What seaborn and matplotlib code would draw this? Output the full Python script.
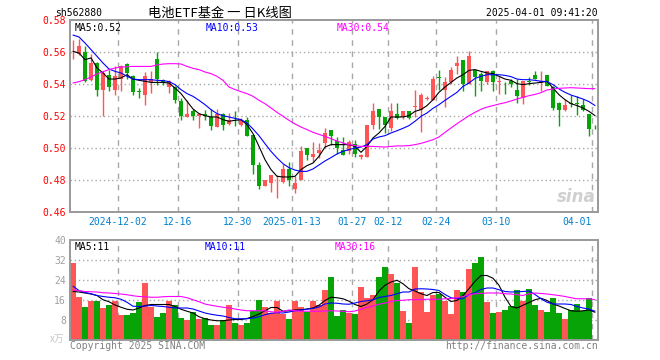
import matplotlib
matplotlib.use("Agg")
import numpy as np
import pandas as pd
import seaborn as sns
import matplotlib.pyplot as plt

# --- DATA ---
DATE_TICKS = [8, 18, 28, 37, 47, 53, 61, 71, 87]
DATE_LABELS = ["2024-12-02", "12-16", "12-30", "2025-01-13", "01-27",
               "02-12", "02-24", "03-10", "04-01"]

opens = [0.5630, 0.5588, 0.5598, 0.5427, 0.5531, 0.5365, 0.5458, 0.5365, 0.5431, 0.5527,
         0.5448, 0.5354, 0.5333, 0.5410, 0.5556, 0.5427, 0.5381, 0.5381, 0.5296, 0.5194,
         0.5229, 0.5202, 0.5215, 0.5194, 0.5131, 0.5213, 0.5152, 0.5152, 0.5146, 0.5173,
         0.5083, 0.4896, 0.4765, 0.4781, 0.4798, 0.4788, 0.4867, 0.4744, 0.4802, 0.5000,
         0.4944, 0.4967, 0.5031, 0.5115, 0.5044, 0.4985, 0.4979, 0.5027, 0.4944, 0.4944,
         0.5146, 0.5246, 0.5194, 0.5125, 0.5213, 0.5194, 0.5233, 0.5256, 0.5235, 0.5306,
         0.5302, 0.5444, 0.5363, 0.5410, 0.5515, 0.5550, 0.5400, 0.5488, 0.5463, 0.5410,
         0.5483, 0.5413, 0.5402, 0.5417, 0.5365, 0.5315, 0.5417, 0.5458, 0.5408, 0.5458,
         0.5381, 0.5281, 0.5235, 0.5279, 0.5281, 0.5267, 0.5215, 0.5137]
highs = [0.5677, 0.5680, 0.5635, 0.5590, 0.5535, 0.5480, 0.5490, 0.5510, 0.5520, 0.5530,
         0.5458, 0.5375, 0.5473, 0.5480, 0.5598, 0.5431, 0.5427, 0.5390, 0.5313, 0.5302,
         0.5244, 0.5219, 0.5235, 0.5244, 0.5244, 0.5219, 0.5219, 0.5229, 0.5190, 0.5194,
         0.5083, 0.4910, 0.4798, 0.4833, 0.4833, 0.4898, 0.4915, 0.4825, 0.5015, 0.5000,
         0.5040, 0.5030, 0.5125, 0.5115, 0.5069, 0.5069, 0.5048, 0.5048, 0.4965, 0.5146,
         0.5281, 0.5246, 0.5194, 0.5281, 0.5281, 0.5233, 0.5233, 0.5360, 0.5344, 0.5323,
         0.5448, 0.5485, 0.5446, 0.5504, 0.5577, 0.5550, 0.5604, 0.5488, 0.5473, 0.5483,
         0.5488, 0.5452, 0.5410, 0.5433, 0.5431, 0.5419, 0.5444, 0.5479, 0.5479, 0.5458,
         0.5390, 0.5285, 0.5306, 0.5333, 0.5325, 0.5306, 0.5215, 0.5146]
lows = [0.5556, 0.5580, 0.5410, 0.5417, 0.5323, 0.5200, 0.5354, 0.5333, 0.5354, 0.5430,
        0.5330, 0.5313, 0.5269, 0.5344, 0.5396, 0.5396, 0.5344, 0.5281, 0.5173, 0.5194,
        0.5177, 0.5125, 0.5177, 0.5110, 0.5131, 0.5115, 0.5146, 0.5135, 0.5140, 0.5073,
        0.4840, 0.4744, 0.4760, 0.4727, 0.4688, 0.4783, 0.4765, 0.4719, 0.4798, 0.4927,
        0.4910, 0.4940, 0.5000, 0.5021, 0.4965, 0.4956, 0.4965, 0.4944, 0.4929, 0.4944,
        0.5119, 0.5119, 0.5094, 0.5104, 0.5181, 0.5181, 0.5181, 0.5194, 0.5098, 0.5298,
        0.5298, 0.5365, 0.5254, 0.5400, 0.5463, 0.5358, 0.5400, 0.5327, 0.5358, 0.5402,
        0.5358, 0.5338, 0.5338, 0.5379, 0.5281, 0.5273, 0.5396, 0.5431, 0.5354, 0.5390,
        0.5240, 0.5140, 0.5229, 0.5256, 0.5208, 0.5231, 0.5073, 0.5119]
closes = [0.5632, 0.5635, 0.5417, 0.5531, 0.5365, 0.5469, 0.5379, 0.5448, 0.5510, 0.5469,
          0.5348, 0.5352, 0.5448, 0.5431, 0.5431, 0.5406, 0.5417, 0.5302, 0.5202, 0.5215,
          0.5198, 0.5215, 0.5198, 0.5135, 0.5215, 0.5146, 0.5177, 0.5150, 0.5177, 0.5077,
          0.4896, 0.4765, 0.4798, 0.4833, 0.4802, 0.4867, 0.4800, 0.4783, 0.4983, 0.4958,
          0.4965, 0.4985, 0.5094, 0.5077, 0.4998, 0.4958, 0.5038, 0.4965, 0.4958, 0.5146,
          0.5233, 0.5194, 0.5146, 0.5229, 0.5188, 0.5233, 0.5188, 0.5265, 0.5333, 0.5315,
          0.5431, 0.5440, 0.5410, 0.5488, 0.5529, 0.5400, 0.5577, 0.5446, 0.5421, 0.5483,
          0.5410, 0.5417, 0.5400, 0.5400, 0.5327, 0.5419, 0.5413, 0.5431, 0.5419, 0.5390,
          0.5250, 0.5240, 0.5271, 0.5277, 0.5273, 0.5238, 0.5119, 0.5135]

ma5 = [0.5604, 0.5594, 0.5552, 0.5563, 0.5500, 0.5469, 0.5431, 0.5431, 0.5438, 0.5458,
       0.5431, 0.5423, 0.5417, 0.5410, 0.5410, 0.5410, 0.5406, 0.5375, 0.5340, 0.5292,
       0.5244, 0.5215, 0.5202, 0.5194, 0.5194, 0.5177, 0.5167, 0.5173, 0.5177, 0.5146,
       0.5090, 0.5010, 0.4927, 0.4865, 0.4823, 0.4819, 0.4819, 0.4823, 0.4865, 0.4890,
       0.4906, 0.4948, 0.5006, 0.5021, 0.5021, 0.5021, 0.5021, 0.5010, 0.4973, 0.5010,
       0.5063, 0.5094, 0.5135, 0.5194, 0.5194, 0.5194, 0.5202, 0.5229, 0.5240, 0.5265,
       0.5302, 0.5348, 0.5381, 0.5410, 0.5438, 0.5458, 0.5485, 0.5490, 0.5479, 0.5469,
       0.5465, 0.5448, 0.5431, 0.5423, 0.5402, 0.5396, 0.5402, 0.5406, 0.5410, 0.5417,
       0.5375, 0.5333, 0.5302, 0.5277, 0.5265, 0.5250, 0.5229, 0.5202]
ma10 = [0.5706, 0.5694, 0.5656, 0.5615, 0.5573, 0.5531, 0.5494, 0.5479, 0.5469, 0.5448,
        0.5431, 0.5427, 0.5427, 0.5427, 0.5423, 0.5421, 0.5415, 0.5396, 0.5365, 0.5340,
        0.5323, 0.5298, 0.5271, 0.5240, 0.5215, 0.5202, 0.5194, 0.5185, 0.5177, 0.5156,
        0.5119, 0.5077, 0.5027, 0.4979, 0.4938, 0.4902, 0.4877, 0.4862, 0.4854, 0.4854,
        0.4869, 0.4894, 0.4919, 0.4940, 0.4963, 0.4979, 0.4990, 0.5000, 0.5006, 0.5021,
        0.5056, 0.5069, 0.5077, 0.5094, 0.5108, 0.5123, 0.5140, 0.5167, 0.5198, 0.5219,
        0.5248, 0.5271, 0.5298, 0.5323, 0.5348, 0.5385, 0.5406, 0.5435, 0.5448, 0.5458,
        0.5458, 0.5458, 0.5454, 0.5446, 0.5431, 0.5427, 0.5427, 0.5423, 0.5417, 0.5415,
        0.5396, 0.5369, 0.5348, 0.5331, 0.5319, 0.5306, 0.5290, 0.5265]
ma30 = [0.5406, 0.5415, 0.5427, 0.5444, 0.5463, 0.5477, 0.5490, 0.5500, 0.5506, 0.5508,
        0.5510, 0.5510, 0.5510, 0.5510, 0.5519, 0.5525, 0.5527, 0.5527, 0.5525, 0.5510,
        0.5498, 0.5490, 0.5475, 0.5465, 0.5448, 0.5423, 0.5381, 0.5365, 0.5352, 0.5340,
        0.5323, 0.5298, 0.5277, 0.5250, 0.5223, 0.5198, 0.5173, 0.5150, 0.5131, 0.5115,
        0.5098, 0.5085, 0.5073, 0.5058, 0.5044, 0.5031, 0.5021, 0.5015, 0.5010, 0.5010,
        0.5010, 0.5008, 0.5006, 0.5010, 0.5013, 0.5013, 0.5015, 0.5021, 0.5029, 0.5040,
        0.5052, 0.5069, 0.5098, 0.5125, 0.5152, 0.5177, 0.5202, 0.5223, 0.5242, 0.5256,
        0.5265, 0.5275, 0.5283, 0.5294, 0.5306, 0.5317, 0.5327, 0.5335, 0.5346, 0.5363,
        0.5369, 0.5373, 0.5375, 0.5377, 0.5375, 0.5373, 0.5371, 0.5371]

volume = [30.9, 17.1, 13.4, 15.5, 15.5, 13.0, 14.0, 15.5, 10.1, 10.1,
          10.9, 15.1, 22.8, 13.4, 9.3, 10.9, 15.5, 13.9, 8.9, 8.1,
          11.3, 8.5, 8.8, 6.1, 6.1, 8.1, 14.2, 6.9, 6.1, 6.9,
          11.5, 16.2, 13.4, 10.9, 15.8, 10.5, 8.5, 15.8, 13.4, 11.3,
          15.8, 14.2, 20.2, 25.2, 9.7, 12.1, 10.9, 10.5, 21.1, 17.0,
          18.2, 25.1, 29.1, 26.3, 22.7, 11.7, 6.9, 29.1, 19.4, 11.3,
          18.2, 18.6, 15.8, 10.5, 20.2, 19.4, 28.3, 30.8, 33.2, 15.4,
          10.9, 11.3, 12.1, 13.8, 20.2, 15.8, 20.6, 14.2, 12.1, 11.3,
          17.0, 10.9, 8.5, 12.1, 14.6, 11.7, 17.0, 0.4]
vol_ma5 = [19.4, 19.2, 18.8, 18.4, 17.8, 16.1, 15.3, 14.0, 13.1, 12.3,
           12.0, 12.8, 13.8, 14.2, 14.2, 14.2, 14.2, 13.4, 12.3, 11.5,
           10.8, 9.3, 8.5, 8.0, 7.7, 7.7, 8.0, 8.2, 8.2, 8.6,
           9.4, 10.4, 11.7, 13.0, 13.0, 11.5, 11.7, 12.0, 12.1, 12.4,
           12.8, 13.9, 15.8, 17.1, 16.9, 16.5, 15.5, 14.2, 13.4, 14.4,
           16.1, 19.6, 21.9, 23.2, 23.9, 22.5, 20.5, 19.6, 18.5, 17.8,
           19.0, 19.0, 17.1, 15.4, 15.8, 17.8, 20.5, 23.5, 25.8, 25.8,
           24.7, 21.9, 17.1, 13.4, 12.8, 13.9, 15.0, 16.1, 16.7, 15.8,
           14.4, 13.6, 12.6, 11.7, 11.5, 11.7, 12.0, 11.1]
vol_ma10 = [21.5, 19.8, 19.0, 18.5, 17.8, 17.4, 17.1, 16.9, 16.3, 15.1,
            13.5, 13.4, 13.6, 13.8, 13.6, 13.4, 13.1, 12.8, 12.8, 12.8,
            12.4, 11.6, 10.8, 10.3, 9.9, 9.6, 9.0, 8.5, 8.5, 8.5,
            8.8, 9.3, 10.1, 10.7, 10.9, 10.8, 11.2, 11.7, 12.0, 12.3,
            12.6, 13.2, 14.4, 14.8, 14.7, 14.4, 14.3, 14.8, 15.4, 15.7,
            16.1, 17.0, 17.4, 17.8, 18.5, 19.2, 19.2, 20.4, 20.5, 20.4,
            20.2, 19.8, 18.2, 16.9, 16.5, 16.5, 18.2, 18.9, 20.2, 20.8,
            20.8, 20.1, 19.4, 19.2, 19.3, 19.4, 19.6, 18.2, 16.5, 15.1,
            14.4, 14.4, 14.4, 14.2, 13.4, 12.8, 12.4, 11.5]
vol_ma30 = [20.0, 19.7, 19.4, 19.3, 19.2, 18.9, 18.8, 18.6, 18.4, 18.1,
            17.7, 17.4, 17.3, 17.1, 17.1, 17.3, 17.4, 17.4, 17.4, 16.9,
            16.1, 15.3, 14.4, 13.9, 13.5, 13.1, 12.8, 12.4, 12.0, 11.7,
            11.7, 11.7, 11.7, 11.3, 11.1, 11.5, 12.0, 11.7, 11.5, 11.5,
            11.5, 11.5, 11.6, 11.7, 11.6, 11.5, 11.3, 11.6, 12.3, 13.1,
            13.6, 14.3, 14.8, 15.4, 15.8, 15.9, 16.1, 16.1, 16.2, 16.3,
            16.3, 16.3, 16.5, 16.6, 16.9, 17.4, 18.1, 18.5, 18.6, 18.8,
            18.8, 18.8, 18.5, 18.4, 18.1, 17.8, 18.5, 18.8, 18.6, 18.4,
            18.1, 17.8, 17.4, 16.9, 16.5, 16.5, 16.5, 16.1]

# --- STYLE ---
RED = "#ff5555"
GREEN = "#07a307"
GRID = "#a8a8a8"
FRAME = "#999999"
MONO = "DejaVu Sans Mono"
LW = 0.8

sns.set_theme(style="white")
plt.rcParams["font.family"] = [MONO, "Noto Sans CJK SC"]

df = pd.DataFrame({"i": np.arange(len(closes)), "open": opens, "high": highs,
                   "low": lows, "close": closes, "ma5": ma5, "ma10": ma10,
                   "ma30": ma30, "vol": volume, "vma5": vol_ma5,
                   "vma10": vol_ma10, "vma30": vol_ma30})
df["up"] = df["close"] >= df["open"]
colors = np.where(df["up"], RED, GREEN)

W, H = 660, 360
fig = plt.figure(figsize=(W / 100, H / 100), dpi=100)
fig.patch.set_facecolor("white")
ax = fig.add_axes([70 / W, 1 - 212 / H, 528 / W, 192 / H])
axv = fig.add_axes([70 / W, 1 - 340 / H, 528 / W, 100 / H])


def frame(a):
    for s in a.spines.values():
        s.set_color(FRAME)
        s.set_linewidth(1.4)
    a.set_xlim(-0.5, len(closes) - 0.5)
    for t in DATE_TICKS:
        a.axvline(t - 0.5, color=GRID, lw=1, ls=(0, (4, 4)), zorder=0)


# --- price panel ---
frame(ax)
ax.set_ylim(0.46, 0.58)
for yv in [0.48, 0.50, 0.52, 0.54, 0.56]:
    ax.axhline(yv, color=GRID, lw=1, ls=(0, (1, 2)), zorder=0)

ax.vlines(df["i"], df["low"], df["high"], colors=colors, lw=1, zorder=2)
body = np.maximum((df["close"] - df["open"]).abs(), 0.00025)
ax.bar(df["i"], body, bottom=np.minimum(df["open"], df["close"]),
       width=0.82, color=colors, linewidth=0, zorder=3)

sns.lineplot(data=df, x="i", y="ma5", color="black", lw=LW, ax=ax, zorder=4)
sns.lineplot(data=df, x="i", y="ma10", color="#0000ff", lw=LW, ax=ax, zorder=4)
sns.lineplot(data=df, x="i", y="ma30", color="#ff00ff", lw=LW, ax=ax, zorder=4)

ax.set_yticks([0.46, 0.48, 0.50, 0.52, 0.54, 0.56, 0.58])
ax.set_yticklabels([f"{v:.2f}" for v in ax.get_yticks()])
ax.tick_params(axis="y", length=0, pad=3, labelsize=7, labelcolor="#ff0000")
ax.set_xticks([t - 0.5 for t in DATE_TICKS])
ax.set_xticklabels(DATE_LABELS)
ax.tick_params(axis="x", length=0, pad=3.5, labelsize=7, labelcolor="#0080d0")
ax.get_xticklabels()[-1].set_ha("right")
ax.set_xlabel("")
ax.set_ylabel("")

ax.text(0.008, 0.985, "MA5:0.52", transform=ax.transAxes, fontsize=7,
        color="black", va="top")
ax.text(0.257, 0.985, "MA10:0.53", transform=ax.transAxes, fontsize=7,
        color="#0000ff", va="top")
ax.text(0.505, 0.985, "MA30:0.54", transform=ax.transAxes, fontsize=7,
        color="#ff00ff", va="top")
ax.text(0.995, 0.03, "sina", transform=ax.transAxes, fontsize=12,
        color="#d0d0d0", fontweight="bold", style="italic", ha="right",
        va="bottom", family="DejaVu Sans")

# --- volume panel ---
frame(axv)
axv.set_ylim(0, 40)
for yv in [8, 16, 24, 32]:
    axv.axhline(yv, color=GRID, lw=1, ls=(0, (1, 2)), zorder=0)
axv.bar(df["i"], df["vol"], width=0.84, color=colors, linewidth=0, zorder=2)
sns.lineplot(data=df, x="i", y="vma5", color="black", lw=LW, ax=axv, zorder=4)
sns.lineplot(data=df, x="i", y="vma10", color="#0000ff", lw=LW, ax=axv, zorder=4)
sns.lineplot(data=df, x="i", y="vma30", color="#ff00ff", lw=LW, ax=axv, zorder=4)
axv.set_yticks([8, 16, 24, 32, 40])
axv.tick_params(axis="y", length=0, pad=3, labelsize=7, labelcolor="#a0a0a0")
axv.set_xticks([])
axv.set_xlabel("")
axv.set_ylabel("")
axv.text(0.008, 0.975, "MA5:11", transform=axv.transAxes, fontsize=7,
         color="black", va="top")
axv.text(0.255, 0.975, "MA10:11", transform=axv.transAxes, fontsize=7,
         color="#0000ff", va="top")
axv.text(0.502, 0.975, "MA30:16", transform=axv.transAxes, fontsize=7,
         color="#ff00ff", va="top")

# --- header / footer texts ---
fig.text(55 / W, 1 - 13 / H, "sh562880", fontsize=7, va="center", color="black")
fig.text(148 / W, 1 - 13 / H, "电池ETF基金 一 日K线图", fontsize=9.5, va="center",
         color="black", family=["Noto Sans CJK SC", "DejaVu Sans"])
fig.text(598 / W, 1 - 13 / H, "2025-04-01 09:41:20", fontsize=7, va="center",
         ha="right", color="black")
fig.text(64 / W, 1 - 339 / H, "x万", fontsize=7, va="center", ha="right",
         color="#c8c8c8", family=["Noto Sans CJK SC", "DejaVu Sans"])
fig.text(70 / W, 1 - 346 / H, "Copyright 2025 SINA.COM", fontsize=7,
         va="center", color="#808080")
fig.text(598 / W, 1 - 346 / H, "http://finance.sina.com.cn", fontsize=7,
         va="center", ha="right", color="#808080")

fig.savefig("out.png", dpi=100)
